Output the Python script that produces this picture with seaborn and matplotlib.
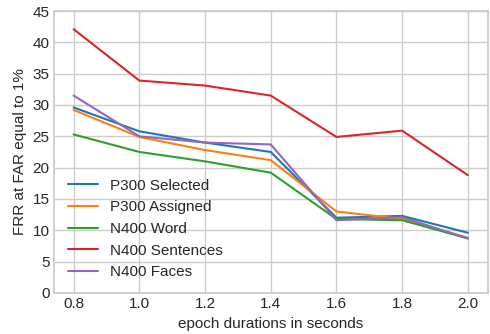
import numpy as np
import pandas as pd
import matplotlib
matplotlib.use('Agg')
import matplotlib.pyplot as plt
import seaborn as sns

durations = [0.8, 1.0, 1.2, 1.4, 1.6, 1.8, 2.0]
p300_selected = [29.6, 25.8, 24.0, 22.5, 12.0, 12.3, 9.6]
p300_assigned = [29.2, 24.9, 22.8, 21.2, 13.0, 11.8, 8.8]
n400_word = [25.3, 22.5, 21.0, 19.2, 11.8, 11.6, 8.7]
n400_sentences = [42.1, 33.9, 33.1, 31.5, 24.9, 25.9, 18.8]
n400_faces = [31.5, 25.0, 24.0, 23.7, 11.6, 12.1, 8.7]

series = {
    'P300 Selected': p300_selected,
    'P300 Assigned': p300_assigned,
    'N400 Word': n400_word,
    'N400 Sentences': n400_sentences,
    'N400 Faces': n400_faces,
}
df = pd.DataFrame([
    {'duration': d, 'frr': v, 'method': name}
    for name, vals in series.items() for d, v in zip(durations, vals)
])

sns.set_theme(style='whitegrid')
plt.rcParams['font.family'] = ['Liberation Sans', 'DejaVu Sans']

fig, ax = plt.subplots(figsize=(4.9, 3.34), dpi=100)
sns.lineplot(data=df, x='duration', y='frr', hue='method', palette='tab10', linewidth=1.5, ax=ax)
ax.set_ylim(0, 45)
ax.set_xticks(durations)
ax.set_xlabel('epoch durations in seconds', fontsize=11, labelpad=4)
ax.set_ylabel('FRR at FAR equal to 1%', fontsize=11, labelpad=4)
ax.tick_params(labelsize=11, length=0, pad=3)
ax.legend(loc='lower left', frameon=False, fontsize=11, bbox_to_anchor=(0.0, 0.0))
for s in ax.spines.values():
    s.set_visible(True)
    s.set_color('#cccccc')
fig.subplots_adjust(left=0.11, right=0.995, top=0.967, bottom=0.123)
fig.savefig('out.png', dpi=100)
